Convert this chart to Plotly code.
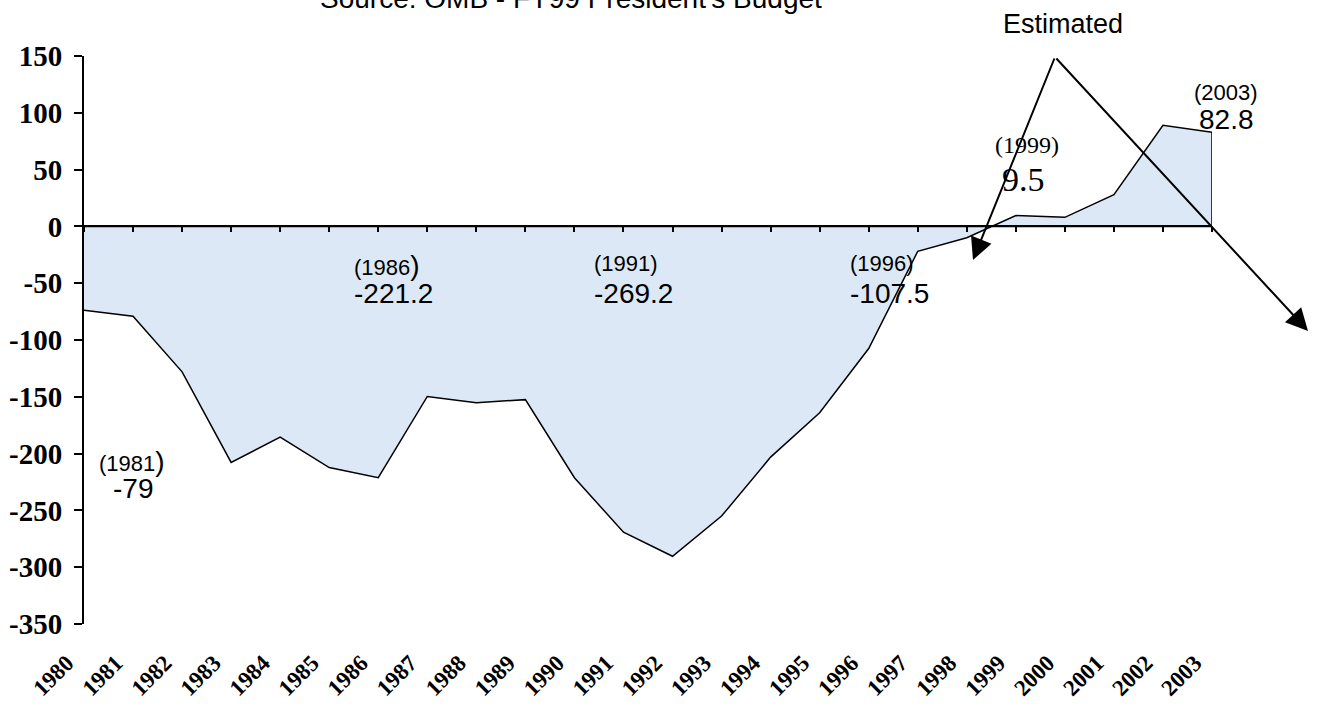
import plotly.graph_objects as go

# ---------------- data ----------------
years = list(range(1980, 2004))
deficit = [-73.8, -79.0, -128.0, -207.8, -185.4, -212.3, -221.2, -149.7,
           -155.2, -152.5, -221.2, -269.2, -290.4, -255.0, -203.1, -164.0,
           -107.5, -21.9, -10.0, 9.5, 8.0, 28.0, 89.0, 82.8]
year_labels = [str(y) for y in years]
y_ticks = [150, 100, 50, 0, -50, -100, -150, -200, -250, -300, -350]
y_tick_labels = [str(v) for v in y_ticks]

callouts = [  # (year text, value text)
    ("(1981", "-79"),
    ("(1986", "-221.2"),
    ("(1991)", "-269.2"),
    ("(1996)", "-107.5"),
    ("(1999)", "9.5"),
    ("(2003)", "82.8"),
]
title_text = "Source: OMB - FY99 President's Budget"
est_text = "Estimated"

# ---------------- layout geometry ----------------
W, H = 1317, 704
ML, MR, MT, MB = 84, 105, 56, 80
PW, PH = W - ML - MR, H - MT - MB


def xp(px):
    return (px - ML) / PW


def yp(py):
    return (H - MB - py) / PH


SANS = "Liberation Sans, Arial, sans-serif"
SERIF = "Liberation Serif, Times New Roman, serif"
FILL = "#dce8f6"

fig = go.Figure()

# closed polygon of the area (data + baseline back to start)
poly_x = years + [years[-1], years[0]]
poly_y = deficit + [0, 0]
fig.add_trace(go.Scatter(
    x=poly_x, y=poly_y, mode="lines", fill="toself", fillcolor=FILL,
    line=dict(color="black", width=1.5), hoverinfo="skip", showlegend=False,
))
# invisible helper trace for the zero-line axis
fig.add_trace(go.Scatter(x=[years[0]], y=[0], xaxis="x2", mode="markers",
                         marker=dict(opacity=0), showlegend=False,
                         hoverinfo="skip"))

yr = [years[0], years[-1]]
fig.update_layout(
    width=W, height=H,
    margin=dict(l=ML, r=MR, t=MT, b=MB, autoexpand=False),
    paper_bgcolor="white", plot_bgcolor="white",
    showlegend=False,
    xaxis=dict(
        range=yr, tickmode="array", tickvals=years, ticktext=year_labels,
        tickangle=-45, showline=False, showgrid=False, zeroline=False,
        ticks="", tickfont=dict(family=SERIF, size=23, color="black",
                                weight="bold"),
        ticklabelstandoff=20, ticklabelshift=-17, automargin=False,
    ),
    xaxis2=dict(
        range=yr, overlaying="x", anchor="free", position=0.7,
        tickmode="array", tickvals=years, showticklabels=False,
        showline=True, linecolor="black", linewidth=2,
        ticks="outside", ticklen=5, tickwidth=1.5, tickcolor="black",
        showgrid=False, zeroline=False, automargin=False,
    ),
    yaxis=dict(
        range=[-350, 150], tickmode="array", tickvals=y_ticks,
        ticktext=y_tick_labels,
        showline=True, linecolor="black", linewidth=2,
        ticks="outside", ticklen=8, tickwidth=1.5, tickcolor="black",
        showgrid=False, zeroline=False, automargin=False,
        tickfont=dict(family=SERIF, size=29, color="black", weight="bold"),
        ticklabelstandoff=6,
    ),
)

anns = []
# title (cut off at the top of the page)
anns.append(dict(text=title_text, x=xp(571), y=yp(-2), xref="paper",
                 yref="paper", showarrow=False, xanchor="center",
                 yanchor="middle", font=dict(family=SANS, size=28,
                                             color="black")))
anns.append(dict(text=est_text, x=xp(1063), y=yp(24), xref="paper",
                 yref="paper", showarrow=False, xanchor="center",
                 yanchor="middle", font=dict(family=SANS, size=27,
                                             color="black")))

big_paren = "<span style='font-size:28px'>)</span>"
# (left px, year cy, left px, value cy, anchor, font)
pos = [
    (97, 461, 111, 488, "left", SANS),
    (352, 265, 352, 293, "left", SANS),
    (592, 263, 592, 293, "left", SANS),
    (848, 263, 848, 293, "left", SANS),
    (993, 145, 1000, 179, "left", SERIF),
    (1226, 92, 1226, 120, "center", SANS),
]
for (ytxt, vtxt), (x1, y1, x2, y2, anc, fam) in zip(callouts, pos):
    if not ytxt.endswith(")"):
        ytxt = ytxt + big_paren
    ysize = 24 if fam == SERIF else 22
    vsize = 34 if fam == SERIF else 28
    anns.append(dict(text=ytxt, x=xp(x1), y=yp(y1), xref="paper",
                     yref="paper", showarrow=False, xanchor=anc,
                     yanchor="middle",
                     font=dict(family=fam, size=ysize, color="black")))
    anns.append(dict(text=vtxt, x=xp(x2), y=yp(y2), xref="paper",
                     yref="paper", showarrow=False, xanchor=anc,
                     yanchor="middle",
                     font=dict(family=fam, size=vsize, color="black")))

# arrows from the "Estimated" apex
apex = (1055, 57)
for tip in [(973, 260), (1308, 331)]:
    anns.append(dict(text="", x=xp(tip[0]), y=yp(tip[1]), xref="paper",
                     yref="paper", showarrow=True, arrowhead=2,
                     arrowsize=2.2, arrowwidth=2, arrowcolor="black",
                     ax=apex[0] - tip[0], ay=apex[1] - tip[1],
                     axref="pixel", ayref="pixel", standoff=0,
                     startstandoff=0))

fig.update_layout(annotations=anns)
fig.write_html(
    "out.html",
    config={"displayModeBar": False},
    post_script="document.body.style.margin='0';"
                "document.body.style.overflow='hidden';",
)
